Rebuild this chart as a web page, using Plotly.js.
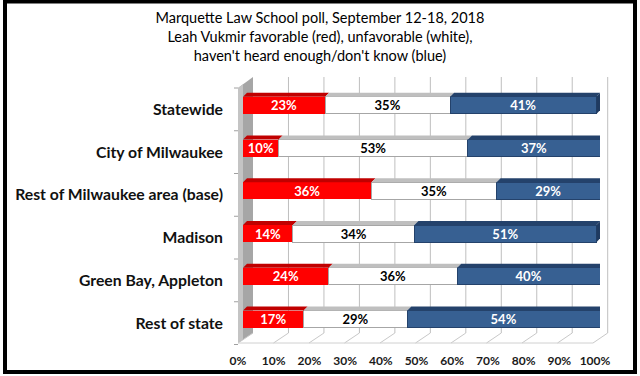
<!DOCTYPE html>
<html><head><meta charset="utf-8">
<script src="https://cdn.plot.ly/plotly-3.0.1.min.js"></script>
<style>html,body{margin:0;padding:0;background:#fff}#chart{width:640px;height:376px}</style>
</head><body><div id="chart"></div>
<script>
// ---- data ----
const categories = ["Statewide", "City of Milwaukee", "Rest of Milwaukee area (base)", "Madison", "Green Bay, Appleton", "Rest of state"];
const favorable = [23, 10, 36, 14, 24, 17];
const unfavorable = [35, 53, 35, 34, 36, 29];
const dontKnow = [41, 37, 29, 51, 40, 54];
const tickValues = [0, 10, 20, 30, 40, 50, 60, 70, 80, 90, 100];
const tickLabels = ["0%", "10%", "20%", "30%", "40%", "50%", "60%", "70%", "80%", "90%", "100%"];
const titleLines = ["Marquette Law School poll, September 12-18, 2018",
  "Leah Vukmir favorable (red), unfavorable (white),",
  "haven't heard enough/don't know (blue)"];

// ---- geometry / style ----
const W = 640, H = 376;
const plotL = 243, plotR = 600, plotT = 84, plotB = 340.5;
const FONT = "Lato, 'Open Sans', sans-serif";
const BAR_W = 0.4;
const pxPerX = (plotR - plotL) / 100;
const pxPerY = (plotB - plotT) / categories.length;
const depthPx = 4;
const dX = depthPx / pxPerX, dY = depthPx / pxPerY;
const px = v => v / W, py = v => 1 - v / H;
const idx = categories.map((_, i) => i);

// back wall / floor projection (px)
const backX0 = 253, backScale = 3.547, frontX0 = 238, frontScale = 3.55;
const wallTop = 77, wallBot = 333, frontTop = 88, frontBot = 343;

const shapes = [];
function pathPaper(pts) {
  return 'M' + pts.map(p => px(p[0]) + ',' + py(p[1])).join('L') + 'Z';
}
// side wall
shapes.push({type: 'path', xref: 'paper', yref: 'paper', layer: 'below',
  path: pathPaper([[frontX0, frontTop], [backX0, wallTop], [backX0, wallBot], [frontX0, frontBot]]),
  fillcolor: '#a6a6a6', line: {width: 0}});
shapes.push({type: 'path', xref: 'paper', yref: 'paper', layer: 'below',
  path: pathPaper([[frontX0, frontTop], [frontX0 + 5, frontTop - 3.7], [frontX0 + 5, frontBot - 3.7], [frontX0, frontBot]]),
  fillcolor: '#c4c4c4', line: {width: 0}});
// back wall gridlines + floor lines
tickValues.forEach(v => {
  const bx = backX0 + backScale * v, fx = frontX0 + frontScale * v;
  if (v > 0) shapes.push({type: 'line', xref: 'paper', yref: 'paper', layer: 'below',
    x0: px(bx), x1: px(bx), y0: py(wallTop), y1: py(wallBot), line: {color: '#bfbfbf', width: 1}});
  shapes.push({type: 'line', xref: 'paper', yref: 'paper', layer: 'below',
    x0: px(fx), x1: px(bx), y0: py(frontBot), y1: py(wallBot), line: {color: '#c8c8c8', width: 1}});
});
shapes.push({type: 'line', xref: 'paper', yref: 'paper', layer: 'below',
  x0: px(frontX0), x1: px(frontX0 + frontScale * 100), y0: py(frontBot), y1: py(frontBot),
  line: {color: '#d0d0d0', width: 1}});
// category boundary ticks on wall edge
for (let k = 0; k <= categories.length; k++) {
  const y = plotT + pxPerY * k + 4;
  shapes.push({type: 'line', xref: 'paper', yref: 'paper', layer: 'below',
    x0: px(234), x1: px(238), y0: py(y), y1: py(y), line: {color: '#a0a0a0', width: 1}});
}
// 3D faces of bars (from data)
const series = [favorable, unfavorable, dontKnow];
const topColors = ['#c00000', '#bfbfbf', '#24426b'];
idx.forEach(i => {
  let a = 0;
  const yt = i - BAR_W / 2;
  series.forEach((s, j) => {
    const b = a + s[i];
    shapes.push({type: 'path', xref: 'x', yref: 'y', layer: 'above',
      path: `M${a},${yt}L${a + dX},${yt - dY}L${b + dX},${yt - dY}L${b},${yt}Z`,
      fillcolor: topColors[j], line: {width: 0}});
    a = b;
  });
  shapes.push({type: 'path', xref: 'x', yref: 'y', layer: 'above',
    path: `M${a},${yt}L${a + dX},${yt - dY}L${a + dX},${yt + BAR_W - dY}L${a},${yt + BAR_W}Z`,
    fillcolor: '#1f3a60', line: {width: 0}});
});
// chart border
shapes.push({type: 'rect', xref: 'paper', yref: 'paper', layer: 'above',
  x0: px(5), x1: px(635), y0: py(372), y1: py(1.5), line: {color: '#000', width: 4}});

function barTrace(vals, color, lineColor, textColor) {
  return {type: 'bar', orientation: 'h', y: idx, x: vals, width: BAR_W,
    marker: {color: color, line: {color: lineColor, width: lineColor ? 1 : 0}},
    text: vals.map(v => v + '%'), textposition: 'inside', insidetextanchor: 'middle',
    constraintext: 'none', textangle: 0,
    textfont: {family: FONT, size: 13, weight: 'bold', color: textColor},
    hoverinfo: 'skip', showlegend: false};
}
const traces = [
  barTrace(favorable, '#ff0000', null, '#ffffff'),
  barTrace(unfavorable, '#ffffff', '#a6a6a6', '#000000'),
  barTrace(dontKnow, '#376092', '#24426b', '#ffffff')
];

const layout = {
  width: W, height: H,
  margin: {l: 0, r: 0, t: 0, b: 0},
  paper_bgcolor: '#ffffff', plot_bgcolor: 'rgba(0,0,0,0)',
  barmode: 'stack', bargap: 0,
  title: {text: titleLines.join('<br>'), x: 0.5, xanchor: 'center', y: py(23), yanchor: 'top',
    font: {family: FONT, size: 14.5, color: '#000000'}},
  xaxis: {domain: [px(plotL), px(plotR)], range: [0, 100], fixedrange: true,
    tickvals: tickValues, ticktext: tickLabels, ticks: '', showgrid: false, zeroline: false, showline: false,
    ticklabelshift: -5, ticklabelstandoff: 11,
    tickfont: {family: FONT, size: 12, weight: 'bold', color: '#1a1a1a'}},
  yaxis: {domain: [py(plotB), py(plotT)], range: [categories.length - 0.5, -0.5], fixedrange: true,
    tickvals: idx, ticktext: categories, ticks: '', showgrid: false, zeroline: false, showline: false,
    ticklabelstandoff: 19, ticklabelshift: -4,
    tickfont: {family: FONT, size: 15.75, weight: 'bold', color: '#111111'}},
  shapes: shapes
};
Plotly.newPlot('chart', traces, layout, {staticPlot: true, displayModeBar: false});
</script>
</body></html>
